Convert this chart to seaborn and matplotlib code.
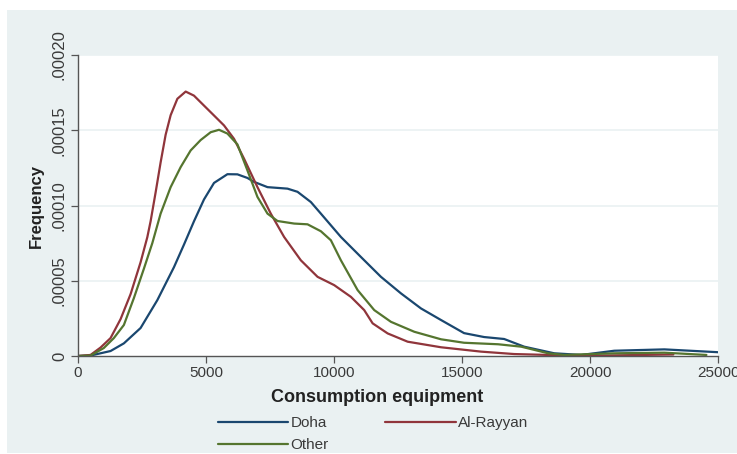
import numpy as np
import pandas as pd
import matplotlib
matplotlib.use("Agg")
import matplotlib.pyplot as plt
from matplotlib.patches import Rectangle
import seaborn as sns

# ---- data (kernel density curves), y in units of 1e-5 ----
doha_x = [0, 489, 1271, 1792, 2445, 3098, 3748, 4139, 4530, 4921, 5313, 5837, 6228, 6619,
          6877, 7402, 8184, 8575, 9096, 9487, 10269, 11051, 11834, 12616, 13398, 14181,
          15081, 15863, 16646, 17428, 18602, 19658, 20949, 22905, 25018]
doha_y = [0, 0.03, 0.33, 0.84, 1.86, 3.71, 5.9, 7.4, 8.95, 10.4, 11.5, 12.08, 12.07, 11.83,
          11.57, 11.22, 11.12, 10.91, 10.23, 9.46, 7.91, 6.58, 5.26, 4.16, 3.16, 2.39,
          1.52, 1.26, 1.13, 0.62, 0.18, 0.07, 0.35, 0.44, 0.25]

rayyan_x = [0, 489, 880, 1271, 1663, 2054, 2445, 2707, 2836, 3032, 3227, 3423, 3619, 3881,
            4206, 4530, 4921, 5313, 5704, 6095, 6486, 7010, 7531, 8051, 8704, 9358, 10007,
            10660, 11180, 11509, 12096, 12878, 14181, 15746, 17037, 18367, 20440, 23257]
rayyan_y = [0, 0.07, 0.56, 1.19, 2.45, 4.11, 6.23, 7.89, 8.95, 10.87, 12.86, 14.7, 16.0,
            17.09, 17.57, 17.30, 16.64, 15.98, 15.32, 14.43, 13.11, 11.22, 9.46, 7.91, 6.36,
            5.26, 4.71, 3.93, 3.05, 2.17, 1.50, 0.95, 0.58, 0.29, 0.13, 0.07, 0.03, 0.10]

other_x = [0, 489, 1009, 1400, 1792, 2183, 2574, 2903, 3227, 3619, 4010, 4401, 4792, 5183,
           5508, 5837, 6228, 6619, 7010, 7402, 7793, 8442, 8966, 9487, 9878, 10269, 10922,
           11572, 12225, 13137, 14181, 15081, 16411, 17311, 18367, 18993, 20949, 22905, 24548]
other_y = [0, 0.03, 0.53, 1.19, 2.06, 3.85, 5.8, 7.5, 9.46, 11.22, 12.55, 13.66, 14.35, 14.87,
           15.03, 14.78, 14.06, 12.33, 10.57, 9.46, 8.97, 8.80, 8.75, 8.29, 7.69, 6.36, 4.38,
           3.05, 2.27, 1.61, 1.11, 0.88, 0.78, 0.62, 0.18, 0.07, 0.18, 0.22, 0.07]

series_names = ["Doha", "Al-Rayyan", "Other"]
series_colors = ["#1a476f", "#90353b", "#55752f"]

x_ticks = [0, 5000, 10000, 15000, 20000, 25000]
y_ticks = [0, 0.00005, 0.00010, 0.00015, 0.00020]
y_tick_labels = ["0", ".00005", ".00010", ".00015", ".00020"]

df = pd.concat([
    pd.DataFrame({"x": doha_x, "y": np.array(doha_y) * 1e-5, "group": "Doha"}),
    pd.DataFrame({"x": rayyan_x, "y": np.array(rayyan_y) * 1e-5, "group": "Al-Rayyan"}),
    pd.DataFrame({"x": other_x, "y": np.array(other_y) * 1e-5, "group": "Other"}),
], ignore_index=True)

sns.set_theme(style="white")
plt.rcParams["font.family"] = ["Liberation Sans", "DejaVu Sans"]

BG = "#eaf1f2"
TXT = "#3a3a3a"
fig = plt.figure(figsize=(7.37, 4.54), dpi=100, facecolor="white")
fig.patches.append(Rectangle((7 / 737, 1 / 454), 1, 1 - 11 / 454, transform=fig.transFigure,
                             facecolor=BG, edgecolor="none", zorder=-10))
ax = fig.add_axes([78 / 737, 1 - 356 / 454, (718 - 78) / 737, (356 - 55) / 454])
ax.set_facecolor("white")

sns.lineplot(data=df, x="x", y="y", hue="group", hue_order=series_names,
             palette=dict(zip(series_names, series_colors)), estimator=None, sort=False,
             linewidth=1.6, ax=ax)
for ln in ax.get_lines():
    ln.set_solid_joinstyle("round")
    ln.set_solid_capstyle("round")

ax.set_xlim(0, 25000)
ax.set_ylim(0, 0.0002)
ax.set_xticks(x_ticks)
ax.set_xticklabels([str(v) for v in x_ticks])
ax.set_yticks(y_ticks)
ax.set_yticklabels(y_tick_labels, rotation=90, va="center")
for yv in y_ticks[1:]:
    ax.axhline(yv, color=BG, linewidth=1.2, zorder=0)

for s in ["top", "right"]:
    ax.spines[s].set_visible(False)
for s in ["left", "bottom"]:
    ax.spines[s].set_color("#555555")
    ax.spines[s].set_linewidth(1.0)
ax.tick_params(axis="both", which="major", length=5, width=0.9, color="#555555",
               labelcolor=TXT, direction="out", bottom=True, left=True)
ax.tick_params(axis="x", labelsize=11, pad=2)
ax.tick_params(axis="y", labelsize=12, pad=3)

ax.set_xlabel("Consumption equipment", fontsize=13, fontweight="bold", color="#222222")
ax.xaxis.label.set_va("center")
ax.xaxis.set_label_coords((377 - 78) / 640, (356 - 398) / 301)
ax.set_ylabel("Frequency", fontsize=12, fontweight="bold", color="#222222")
ax.yaxis.label.set_va("center")
ax.yaxis.set_label_coords((36 - 78) / 640, 0.5)

handles, labels = ax.get_legend_handles_labels()
ax.get_legend().remove()
hmap = dict(zip(labels, handles))
order = ["Doha", "Other", "Al-Rayyan"]
leg = fig.legend([hmap[k] for k in order], order, loc="upper left",
                 bbox_to_anchor=(218 / 737, 1 - 416 / 454), ncol=2, frameon=False,
                 fontsize=11, handlelength=4.6, handletextpad=0.15, columnspacing=3.7,
                 labelspacing=0.55, borderpad=0, borderaxespad=0)
for t in leg.get_texts():
    t.set_color(TXT)

fig.savefig("out.png", dpi=100, facecolor=fig.get_facecolor())
